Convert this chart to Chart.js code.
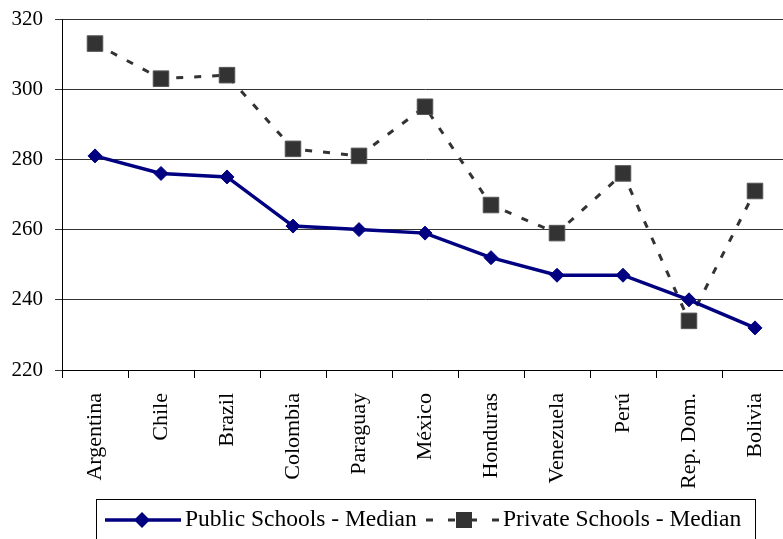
<!DOCTYPE html>
<html>
<head>
<meta charset="utf-8">
<script src="https://cdn.jsdelivr.net/npm/chart.js@4"></script>
<style>
  html, body { margin: 0; padding: 0; background: #fff; overflow: hidden; }
  #wrap { position: relative; width: 800px; height: 539px; }
</style>
</head>
<body>
<div id="wrap"><canvas id="c"></canvas></div>
<script>
const countries = ["Argentina", "Chile", "Brazil", "Colombia", "Paraguay", "México", "Honduras", "Venezuela", "Perú", "Rep. Dom.", "Bolivia"];
const publicMedian = [281, 276, 275, 261, 260, 259, 252, 247, 247, 240, 232];
const privateMedian = [313, 303, 304, 283, 281, 295, 267, 259, 276, 234, 271];
const seriesNames = ["Public Schools - Median", "Private Schools - Median"];
const yTicks = [220, 240, 260, 280, 300, 320];

const FONT = "Liberation Serif";
const NAVY = "#000080";
const DARK = "#333333";

const legendBox = {
  id: "legendBox",
  afterDraw(chart) {
    const ctx = chart.ctx;
    const ds = chart.data.datasets;
    ctx.save();
    ctx.strokeStyle = "#000";
    ctx.lineWidth = 1;
    ctx.strokeRect(96.5, 499.5, 659, 60);
    ctx.font = "23.5px '" + FONT + "'";
    ctx.textBaseline = "alphabetic";
    const cy = 520;
    const base = 525.5;
    // public sample
    ctx.strokeStyle = NAVY;
    ctx.lineWidth = 3.5;
    ctx.beginPath(); ctx.moveTo(105, cy); ctx.lineTo(181, cy); ctx.stroke();
    ctx.fillStyle = NAVY;
    ctx.beginPath();
    ctx.moveTo(142, cy - 8); ctx.lineTo(150, cy); ctx.lineTo(142, cy + 8); ctx.lineTo(134, cy); ctx.closePath(); ctx.fill();
    ctx.fillStyle = "#000";
    ctx.fillText(ds[0].label, 185, base);
    // private sample
    ctx.strokeStyle = DARK;
    ctx.lineWidth = 3;
    ctx.setLineDash([7, 15]);
    ctx.beginPath(); ctx.moveTo(426, cy); ctx.lineTo(499, cy); ctx.stroke();
    ctx.setLineDash([]);
    ctx.fillStyle = DARK;
    ctx.fillRect(456, cy - 8, 16, 16);
    ctx.fillStyle = "#000";
    ctx.fillText(ds[1].label, 503, base);
    ctx.restore();
  }
};

new Chart(document.getElementById("c"), {
  type: "line",
  data: {
    labels: countries,
    datasets: [
      {
        label: seriesNames[0],
        data: publicMedian,
        borderColor: NAVY,
        backgroundColor: NAVY,
        borderWidth: 3.5,
        pointStyle: "rectRot",
        pointRadius: 7,
        pointHoverRadius: 7,
        pointBackgroundColor: NAVY,
        pointBorderColor: NAVY,
        pointBorderWidth: 1,
        tension: 0
      },
      {
        label: seriesNames[1],
        data: privateMedian,
        borderColor: DARK,
        backgroundColor: DARK,
        borderWidth: 3,
        borderDash: [7, 11],
        pointStyle: "rect",
        pointRadius: 11,
        pointHoverRadius: 11,
        pointBackgroundColor: DARK,
        pointBorderColor: "#555",
        pointBorderWidth: 1,
        tension: 0
      }
    ]
  },
  options: {
    responsive: true,
    maintainAspectRatio: false,
    animation: false,
    events: [],
    layout: { padding: { top: 19, right: 6, bottom: 44, left: 0 } },
    plugins: {
      legend: { display: false },
      tooltip: { enabled: false }
    },
    scales: {
      x: {
        type: "category",
        offset: true,
        afterFit: (s) => { s.height = 125; s.paddingLeft = 0; s.paddingRight = 0; },
        grid: { offset: true, drawOnChartArea: false, drawTicks: true, tickLength: 8, color: "#000" },
        border: { color: "#000", width: 1 },
        ticks: {
          minRotation: 90, maxRotation: 90, autoSkip: false, padding: 15,
          color: "#000", font: { family: FONT, size: 22 }
        }
      },
      y: {
        min: 220, max: 320,
        afterFit: (s) => { s.width = 62; s.paddingTop = 0; s.paddingBottom = 0; },
        afterBuildTicks: (s) => { s.ticks = yTicks.map(v => ({ value: v })); },
        grid: { color: "#333", tickLength: 7, drawTicks: true },
        border: { color: "#000", width: 1 },
        ticks: { padding: 12, color: "#000", font: { family: FONT, size: 21 } }
      }
    }
  },
  plugins: [legendBox]
});
</script>
</body>
</html>
